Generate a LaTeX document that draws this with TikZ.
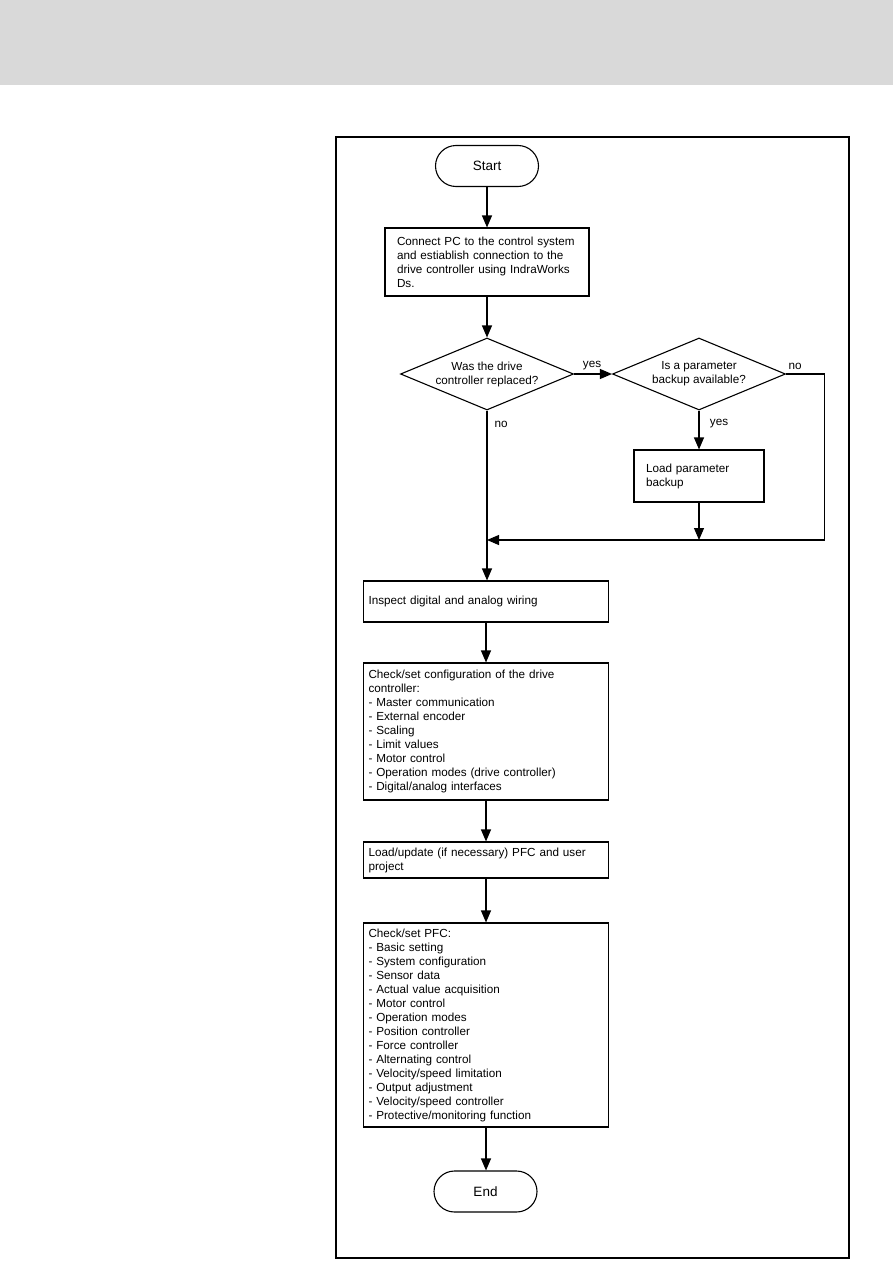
\documentclass[tikz,border=0pt]{standalone}
\usepackage{fontspec}
\setmainfont{Liberation Sans}
\usetikzlibrary{shapes.geometric,arrows.meta}
\definecolor{bandgray}{HTML}{D9D9D9}
\begin{document}
\begin{tikzpicture}[x=1pt,y=-1pt,
  every node/.style={font=\fontsize{11.7}{14}\selectfont},
  line/.style={line width=1.1pt},
  arr/.style={line width=1.1pt,-{Triangle[length=12pt,width=10pt]}},
  box/.style={draw,line width=1.1pt,rectangle,align=left,inner ysep=0pt},
  term/.style={draw,line width=1.1pt,rectangle,rounded corners=20.5pt,minimum width=103pt,minimum height=41pt,inner sep=0pt,font=\fontsize{13.5}{16}\selectfont},
  dia/.style={draw,line width=1.1pt,diamond,aspect=2.4,minimum width=173pt,minimum height=72pt,inner sep=0pt},
  lbl/.style={inner sep=0pt}]
\useasboundingbox (0,0) rectangle (893,1263);
\fill[bandgray] (0,0) rectangle (893,85);
\draw[line width=2pt] (336,137) rectangle (849,1258);

\node[term] (start) at (487,166) {Start};
\node[box,minimum width=204pt,minimum height=68pt,inner xsep=12pt,text width=180pt] (connect) at (487,262)
  {Connect PC to the control system\\and estiablish connection to the\\drive controller using IndraWorks\\Ds.};
\node[dia] (d1) at (487,374) {};
\node[align=center,inner sep=0pt] at (d1) {Was the drive\\controller replaced?};
\node[dia] (d2) at (699,374) {};
\node[align=center,inner sep=0pt] at (d2) {Is a parameter\\backup available?};
\node[box,minimum width=130pt,minimum height=52pt,inner xsep=12pt,text width=106pt] (loadbk) at (699,476)
  {Load parameter\\backup};
\coordinate (merge) at (487,540);
\node[box,minimum width=245pt,minimum height=41pt,inner xsep=5pt,text width=235pt] (inspect) at (486,601.5)
  {Inspect digital and analog wiring};
\node[box,minimum width=245pt,minimum height=137pt,inner xsep=5pt,text width=235pt] (config) at (486,731.5)
  {Check/set configuration of the drive\\controller:\\- Master communication\\- External encoder\\- Scaling\\- Limit values\\- Motor control\\- Operation modes (drive controller)\\- Digital/analog interfaces};
\node[box,minimum width=245pt,minimum height=36pt,inner xsep=5pt,text width=235pt] (update) at (486,860)
  {Load/update (if necessary) PFC and user\\project};
\node[box,minimum width=245pt,minimum height=204pt,inner xsep=5pt,text width=235pt] (pfc) at (486,1025)
  {Check/set PFC:\\- Basic setting\\- System configuration\\- Sensor data\\- Actual value acquisition\\- Motor control\\- Operation modes\\- Position controller\\- Force controller\\- Alternating control\\- Velocity/speed limitation\\- Output adjustment\\- Velocity/speed controller\\- Protective/monitoring function};
\node[term] (end) at (485.5,1191.5) {End};

\draw[arr] (start.south) -- (start.south |- connect.north);
\draw[arr] (connect.south) -- (d1.north);
\draw[arr] (d1.east) -- (d2.west);
\draw[arr] (d2.south) -- (loadbk.north);
\draw[arr] (d2.east) -- ++(38,0) |- (merge);
\draw[arr] (loadbk.south) -- (loadbk.south |- merge);
\draw[arr] (d1.south) -- (d1.south |- inspect.north);
\draw[arr] (inspect.south) -- (config.north);
\draw[arr] (config.south) -- (update.north);
\draw[arr] (update.south) -- (pfc.north);
\draw[arr] (pfc.south) -- (pfc.south |- end.north);

\node[lbl] (lyes1) at (592,366) {yes};
\node[lbl] (lno1) at (795,366) {no};
\node[lbl] (lyes2) at (719,424) {yes};
\node[lbl] (lno2) at (501,424) {no};
\end{tikzpicture}
\end{document}
